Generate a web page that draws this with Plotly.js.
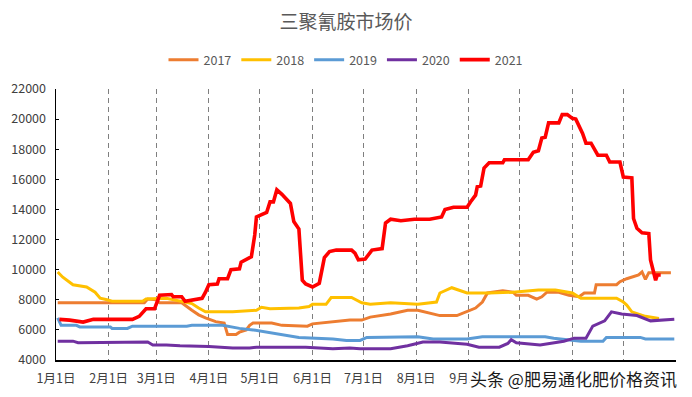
<!DOCTYPE html>
<html>
<head>
<meta charset="utf-8">
<script src="https://cdn.plot.ly/plotly-3.0.1.min.js"></script>
<style>html,body{margin:0;padding:0;background:#fff;}#chart{width:692px;height:397px;}</style>
</head>
<body>
<div id="chart"></div>
<script>
// Dates are month-day within the year (plotted on a common calendar)
const d2017 = ['01-02','02-09','02-22','02-24','03-01','03-03','03-16','03-22','03-26','03-30','04-05','04-10','04-12','04-17','04-19','04-23','04-25','04-27','05-08','05-14','05-29','06-01','06-14','06-23','06-30','07-05','07-17','07-27','08-02','08-08','08-15','08-25','08-31','09-05','09-09','09-12','09-21','09-27','09-29','10-06','10-11','10-14','10-17','10-24','10-30','11-05','11-08','11-14','11-15','11-27','11-29','12-03','12-10','12-12','12-14','12-16','12-29'];
const v2017 = [7800,7800,7800,8050,8000,7800,7800,7300,7000,6800,6550,6450,5700,5700,5850,6000,6300,6450,6450,6300,6250,6400,6550,6650,6650,6850,7050,7300,7300,7150,6950,6950,7250,7450,7850,8450,8600,8500,8300,8300,8050,8200,8500,8500,8300,8200,8450,8450,9000,9000,9200,9400,9650,9850,9350,9800,9800];

const d2018 = ['01-02','01-05','01-11','01-19','01-24','01-27','01-31','02-03','02-21','02-23','03-07','03-15','03-22','03-26','03-30','04-15','04-29','05-02','05-07','05-24','05-30','06-01','06-09','06-12','06-24','06-30','07-05','07-17','08-02','08-13','08-15','08-22','08-31','09-13','09-27','10-12','10-22','11-01','11-06','11-27','12-01','12-03','12-06','12-14','12-22'];
const v2018 = [9850,9500,9000,8850,8500,8100,8000,7900,7900,8050,8100,7900,7750,7450,7200,7200,7300,7500,7400,7450,7550,7700,7700,8150,8150,7800,7700,7800,7700,7850,8450,8800,8450,8450,8500,8650,8650,8450,8100,8100,7850,7650,7200,6900,6750];

const d2019 = ['01-02','01-04','01-13','01-15','02-02','02-03','02-12','02-15','03-19','03-22','04-09','04-19','04-27','05-05','05-14','05-24','06-03','06-13','06-21','06-29','07-03','07-19','08-02','08-11','08-31','09-09','10-16','10-21','11-06','11-19','11-21','12-11','12-14','12-31'];
const v2019 = [6800,6300,6300,6200,6200,6100,6100,6250,6250,6300,6300,6100,6000,5850,5650,5500,5450,5400,5300,5300,5500,5550,5550,5400,5400,5550,5550,5450,5250,5250,5500,5500,5400,5400];

const d2020 = ['01-02','01-11','01-14','02-15','02-24','02-27','03-07','03-15','04-01','04-15','04-25','04-29','05-28','06-13','06-23','06-29','07-17','07-27','07-31','08-05','08-15','08-31','09-07','09-19','09-24','09-26','09-29','10-13','10-27','11-02','11-09','11-13','11-20','11-24','11-30','12-09','12-17','12-23','12-31'];
const v2020 = [5250,5250,5150,5200,5200,5000,5000,4950,4900,4800,4800,4850,4850,4750,4800,4750,4750,4950,5050,5200,5200,5050,4850,4850,5100,5350,5150,5000,5250,5450,5450,6250,6600,7200,7050,6950,6600,6650,6700];

const d2021 = ['01-03','01-09','01-17','01-23','02-15','02-19','02-23','02-28','03-03','03-10','03-11','03-16','03-18','03-25','03-28','03-30','04-01','04-06','04-07','04-12','04-14','04-19','04-20','04-25','04-26','04-28','04-29','05-05','05-07','05-09','05-11','05-14','05-17','05-19','05-21','05-23','05-24','05-26','05-28','06-01','06-05','06-08','06-11','06-15','06-24','06-26','06-28','07-02','07-06','07-12','07-14','07-17','07-23','07-31','08-09','08-16','08-18','08-23','08-31','09-02','09-05','09-06','09-08','09-10','09-13','09-21','09-22','10-06','10-09','10-12','10-14','10-16','10-18','10-24','10-26','10-29','11-01','11-03','11-07','11-09','11-12','11-16','11-21','11-23','11-29','12-01','12-06','12-07','12-09','12-12','12-16','12-17','12-20','12-21','12-23'];
const v2021 = [6700,6650,6520,6700,6700,6900,7400,7400,8300,8350,8200,8200,7900,8000,8100,8500,9000,9050,9400,9400,10000,10050,10500,10800,10850,12300,13500,13800,14500,14500,15300,15000,14600,14400,13200,12800,12700,9300,9050,8850,9100,10800,11200,11300,11300,11100,10650,10700,11300,11400,13100,13350,13250,13350,13350,13500,14000,14150,14150,14500,14950,15500,15550,16750,17100,17100,17300,17300,17800,17900,18750,18800,19750,19750,20300,20300,20050,20000,19050,18400,18400,17600,17600,17150,17150,16150,16100,13400,12750,12450,12400,10650,9300,9650,9650];

const seriesNames = ['2017','2018','2019','2020','2021'];
const seriesColors = ['#ED7D31','#FFC000','#5B9BD5','#7030A0','#FF0000'];
const seriesWidths = [3,3,3,3,3.6];
const monthTicks = ['01-01','02-01','03-01','04-01','05-01','06-01','07-01','08-01','09-01','10-01','11-01','12-01'];
// Oct–Dec labels are hidden under the watermark in the reference
const monthLabels = ['1月1日','2月1日','3月1日','4月1日','5月1日','6月1日','7月1日','8月1日','9月1日','','',''];

const Y = '2021-';
const allD = [d2017,d2018,d2019,d2020,d2021];
const allV = [v2017,v2018,v2019,v2020,v2021];
const traces = seriesNames.map((n,i)=>({
  type:'scatter', mode:'lines', name:n,
  x: allD[i].map(d=>Y+d), y: allV[i],
  line:{color:seriesColors[i], width:seriesWidths[i]},
  hoverinfo:'skip'
}));

const FONT = '"Noto Sans CJK SC", "Noto Sans", sans-serif';
const layout = {
  width:692, height:397,
  margin:{l:56, r:16, t:89, b:37},
  paper_bgcolor:'#fff', plot_bgcolor:'#fff',
  font:{family:FONT, color:'#404040', size:12.5},
  title:{text:'三聚氰胺市场价', x:0.5, xref:'container', xanchor:'center', y:1-22/397, yref:'container', yanchor:'middle', font:{family:FONT, size:19, color:'#595959'}},
  showlegend:true,
  legend:{orientation:'h', x:0.5, xref:'container', xanchor:'center', y:1-60/397, yref:'container', yanchor:'middle', font:{family:FONT, size:12.5, color:'#595959'}, itemwidth:30, tracegroupgap:0},
  xaxis:{
    type:'date', range:[Y+'01-01','2022-01-01'],
    tickvals: monthTicks.map(t=>Y+t).concat(['2022-01-01']),
    ticktext: monthLabels.concat(['']),
    showgrid:true, gridcolor:'#7f7f7f', gridwidth:1, griddash:'5px,4px',
    showline:true, linecolor:'#000', linewidth:1.5,
    ticks:'', ticklabelstandoff:6, zeroline:false, fixedrange:true,
    tickfont:{family:FONT, size:12.5, color:'#404040'}
  },
  yaxis:{
    range:[4000,22000], dtick:2000, tick0:4000, tickformat:'d',
    showgrid:false, showline:true, linecolor:'#000', linewidth:1.5,
    ticks:'inside', ticklen:3, tickcolor:'#000', ticklabelstandoff:6,
    zeroline:false, fixedrange:true,
    tickfont:{family:FONT, size:12.5, color:'#404040'}
  },
  annotations:[{
    text:'头条 @肥易通化肥价格资讯', xref:'paper', yref:'paper',
    x:(573-56)/620, y:(360-378)/271, xanchor:'center', yanchor:'middle',
    showarrow:false, bgcolor:'#ffffff', borderpad:0,
    font:{family:FONT, size:17, color:'#1a1a1a'}
  }]
};
Plotly.newPlot('chart', traces, layout, {displayModeBar:false, staticPlot:true});
</script>
</body>
</html>
